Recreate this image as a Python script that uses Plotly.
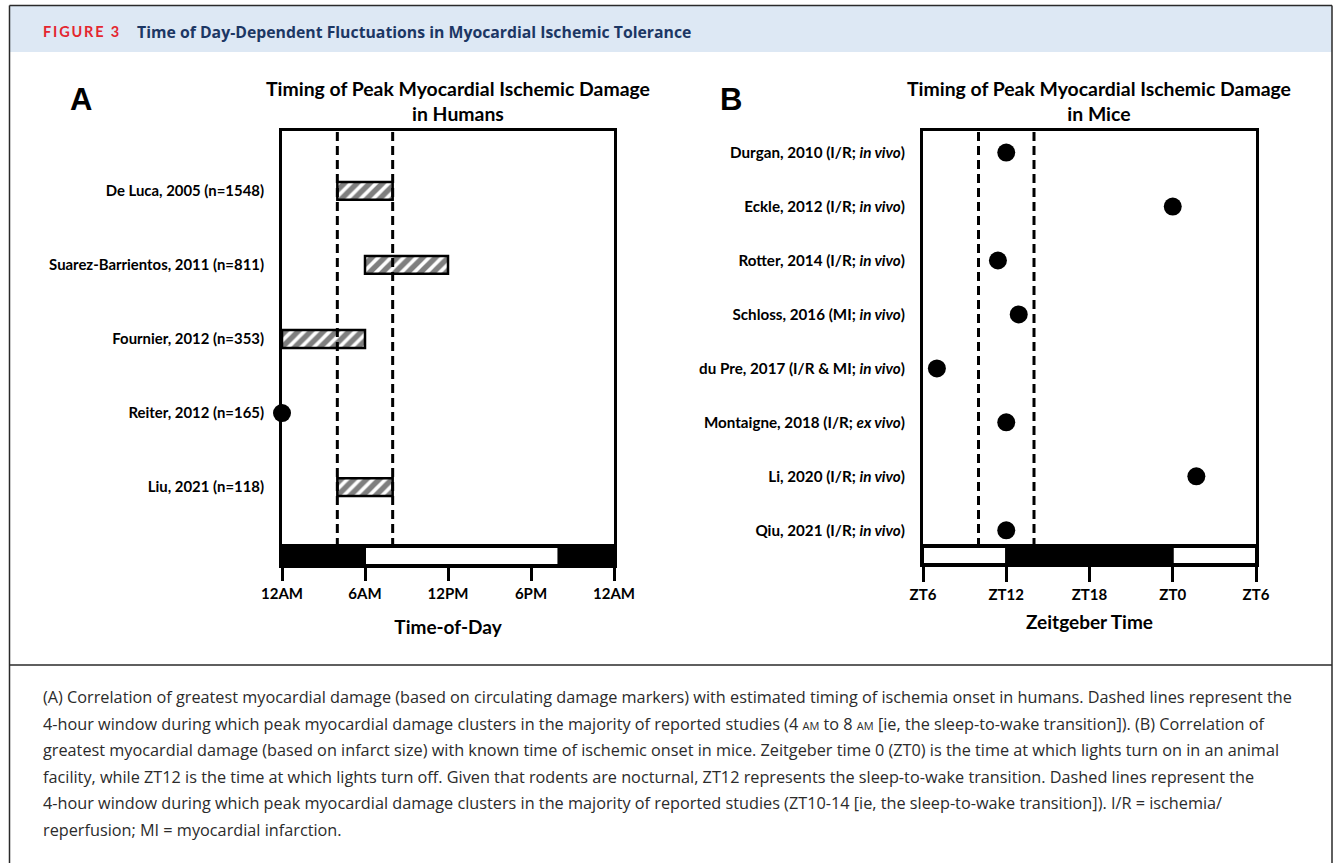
import plotly.graph_objects as go

W, H = 1337, 863

# ---------------- data ----------------
hum_studies = ["De Luca, 2005 (n=1548)", "Suarez-Barrientos, 2011 (n=811)",
               "Fournier, 2012 (n=353)", "Reiter, 2012 (n=165)", "Liu, 2021 (n=118)"]
hum_start = [4, 6, 0, None, 4]      # hour of day, range studies
hum_end = [8, 12, 6, None, 8]
hum_point = [None, None, None, 0, None]  # single time point studies
hum_window = [4, 8]
hum_ticks = [0, 6, 12, 18, 24]
hum_ticktext = ["12AM", "6AM", "12PM", "6PM", "12AM"]
hum_phase_start = [0, 6, 20]
hum_phase_end = [6, 20, 24]
hum_phase_dark = [True, False, True]

mouse_studies = ["Durgan, 2010 (I/R; <i>in vivo</i>)", "Eckle, 2012 (I/R; <i>in vivo</i>)",
                 "Rotter, 2014 (I/R; <i>in vivo</i>)", "Schloss, 2016 (MI; <i>in vivo</i>)",
                 "du Pre, 2017 (I/R &amp; MI; <i>in vivo</i>)", "Montaigne, 2018 (I/R; <i>ex vivo</i>)",
                 "Li, 2020 (I/R; <i>in vivo</i>)", "Qiu, 2021 (I/R; <i>in vivo</i>)"]
mouse_zt = [12, 0, 11.4, 12.9, 7, 12, 1.7, 12]
mouse_window = [10, 14]
mouse_ticks = [6, 12, 18, 24, 30]
mouse_ticktext = ["ZT6", "ZT12", "ZT18", "ZT0", "ZT6"]
mouse_phase_start = [6, 12, 24]
mouse_phase_end = [12, 24, 30]
mouse_phase_dark = [False, True, False]

caption_lines = [
    "(A) Correlation of greatest myocardial damage (based on circulating damage markers) with estimated timing of ischemia onset in humans. Dashed lines represent the",
    "4-hour window during which peak myocardial damage clusters in the majority of reported studies (4 <span style='font-size:11px'>AM</span> to 8 <span style='font-size:11px'>AM</span> [ie, the sleep-to-wake transition]). (B) Correlation of",
    "greatest myocardial damage (based on infarct size) with known time of ischemic onset in mice. Zeitgeber time 0 (ZT0) is the time at which lights turn on in an animal",
    "facility, while ZT12 is the time at which lights turn off. Given that rodents are nocturnal, ZT12 represents the sleep-to-wake transition. Dashed lines represent the",
    "4-hour window during which peak myocardial damage clusters in the majority of reported studies (ZT10-14 [ie, the sleep-to-wake transition]). I/R = ischemia/",
    "reperfusion; MI = myocardial infarction.",
]

# ---------------- helpers ----------------
def px(x):
    return x / W

def py(y):
    return 1 - y / H

FONT = "Lato"
BOLD = dict(family=FONT, weight="bold", color="black")

fig = go.Figure()

# ---- Panel A: humans ----
n_h = len(hum_studies)
idx = [i for i in range(n_h) if hum_start[i] is not None]
fig.add_trace(go.Bar(
    orientation="h",
    y=idx, base=[hum_start[i] for i in idx],
    x=[hum_end[i] - hum_start[i] for i in idx],
    width=0.24,
    marker=dict(color="white", line=dict(color="black", width=2.5),
                pattern=dict(shape="/", fgcolor="black", bgcolor="white", size=9, solidity=0.6)),
    xaxis="x", yaxis="y", showlegend=False, hoverinfo="skip"))
pidx = [i for i in range(n_h) if hum_point[i] is not None]
fig.add_trace(go.Scatter(
    x=[hum_point[i] for i in pidx], y=pidx, mode="markers",
    marker=dict(size=18, color="black"), cliponaxis=False,
    xaxis="x", yaxis="y", showlegend=False, hoverinfo="skip"))
for s, e, d in zip(hum_phase_start, hum_phase_end, hum_phase_dark):
    fig.add_trace(go.Bar(
        orientation="h", y=[0.5], base=[s], x=[e - s], width=1,
        marker=dict(color="black" if d else "white", line=dict(color="black", width=2)),
        xaxis="x2", yaxis="y2", showlegend=False, hoverinfo="skip"))

# ---- Panel B: mice ----
n_m = len(mouse_studies)
mouse_x = [z if z >= 6 else z + 24 for z in mouse_zt]
fig.add_trace(go.Scatter(
    x=mouse_x, y=list(range(n_m)), mode="markers",
    marker=dict(size=18, color="black"), cliponaxis=False,
    xaxis="x3", yaxis="y3", showlegend=False, hoverinfo="skip"))
for s, e, d in zip(mouse_phase_start, mouse_phase_end, mouse_phase_dark):
    fig.add_trace(go.Bar(
        orientation="h", y=[0.5], base=[s], x=[e - s], width=1,
        marker=dict(color="black" if d else "white", line=dict(color="black", width=2)),
        xaxis="x4", yaxis="y4", showlegend=False, hoverinfo="skip"))

# ---------------- axes ----------------
A_x = [px(282), px(614)]
B_x = [px(923), px(1256)]
main_y = [py(547), py(131)]
stripA_y = [py(565), py(547)]
stripB_y = [py(564), py(547)]

box = dict(showline=True, linecolor="black", linewidth=3, mirror=True,
           showgrid=False, zeroline=False)

fig.update_layout(
    xaxis=dict(domain=A_x, range=[0, 24], anchor="y", showticklabels=False, ticks="", **box),
    yaxis=dict(domain=main_y, range=[n_h - 1 + 0.81, -0.81], anchor="x",
               tickvals=list(range(n_h)), ticktext=hum_studies, ticks="",
               tickfont=dict(size=14.9, **BOLD), ticklabelstandoff=12, **box),
    xaxis2=dict(domain=A_x, range=[0, 24], anchor="y2", tickvals=hum_ticks, ticktext=hum_ticktext,
                ticks="outside", ticklen=13, tickwidth=3, tickcolor="black",
                tickfont=dict(size=15, **BOLD),
                title=dict(text="Time-of-Day", font=dict(size=19, **BOLD), standoff=20), **box),
    yaxis2=dict(domain=stripA_y, range=[0, 1], anchor="x2", showticklabels=False, ticks="", **box),
    xaxis3=dict(domain=B_x, range=[6, 30], anchor="y3", showticklabels=False, ticks="", **box),
    yaxis3=dict(domain=main_y, range=[n_m - 1 + 0.31, -0.40], anchor="x3",
                tickvals=list(range(n_m)), ticktext=mouse_studies, ticks="",
                tickfont=dict(size=15.2, **BOLD), ticklabelstandoff=12, **box),
    xaxis4=dict(domain=B_x, range=[6, 30], anchor="y4", tickvals=mouse_ticks, ticktext=mouse_ticktext,
                ticks="outside", ticklen=15, tickwidth=3, tickcolor="black",
                tickfont=dict(size=15, **BOLD),
                title=dict(text="Zeitgeber Time", font=dict(size=19, **BOLD), standoff=14), **box),
    yaxis4=dict(domain=stripB_y, range=[0, 1], anchor="x4", showticklabels=False, ticks="", **box),
    barmode="overlay",
    width=W, height=H, autosize=False,
    margin=dict(l=0, r=0, t=0, b=0, autoexpand=False),
    paper_bgcolor="white", plot_bgcolor="white",
    font=dict(family=FONT, color="black"),
)

# ---------------- dashed window lines ----------------
for xv in hum_window:
    fig.add_shape(type="line", xref="x", yref="y domain", x0=xv, x1=xv, y0=0, y1=1,
                  line=dict(color="black", width=3, dash="9px,5px"), layer="above")
for xv in mouse_window:
    fig.add_shape(type="line", xref="x3", yref="y3 domain", x0=xv, x1=xv, y0=0, y1=1,
                  line=dict(color="black", width=3, dash="9px,5px"), layer="above")

# ---------------- frame & header ----------------
fig.add_shape(type="rect", xref="paper", yref="paper", x0=px(10), x1=px(1332), y0=py(6), y1=py(52),
              fillcolor="#dde8f4", line=dict(width=0), layer="below")
frame = dict(color="#2a2a2a", width=1.5)
fig.add_shape(type="line", xref="paper", yref="paper", x0=px(9.5), x1=px(1332), y0=py(5.5), y1=py(5.5), line=frame)
fig.add_shape(type="line", xref="paper", yref="paper", x0=px(9.5), x1=px(9.5), y0=py(5.5), y1=0, line=frame)
fig.add_shape(type="line", xref="paper", yref="paper", x0=px(1332), x1=px(1332), y0=py(5.5), y1=0, line=frame)
fig.add_shape(type="line", xref="paper", yref="paper", x0=px(9.5), x1=px(1332), y0=py(665), y1=py(665), line=frame)

fig.add_annotation(x=px(41), y=py(32), xref="paper", yref="paper", xanchor="left", yanchor="middle",
                   text="\u2009".join("FIGURE 3"), showarrow=False,
                   font=dict(family=FONT, size=14.5, weight="bold", color="#e4262f"))
fig.add_annotation(x=px(135), y=py(32), xref="paper", yref="paper", xanchor="left", yanchor="middle",
                   text="Time of Day-Dependent Fluctuations in Myocardial Ischemic Tolerance", showarrow=False,
                   font=dict(family="Open Sans", size=15.8, weight="bold", color="#1c3764"))

# panel letters and titles
fig.add_annotation(x=px(81), y=py(99), xref="paper", yref="paper", xanchor="center", yanchor="middle",
                   text="A", showarrow=False,
                   font=dict(family="Liberation Sans", size=31, weight="bold", color="black"))
fig.add_annotation(x=px(731), y=py(99), xref="paper", yref="paper", xanchor="center", yanchor="middle",
                   text="B", showarrow=False,
                   font=dict(family="Liberation Sans", size=31, weight="bold", color="black"))
fig.add_annotation(x=px(458), y=py(101), xref="paper", yref="paper", xanchor="center", yanchor="middle",
                   text="Timing of Peak Myocardial Ischemic Damage<br>in Humans", showarrow=False,
                   font=dict(size=19.4, **BOLD))
fig.add_annotation(x=px(1099), y=py(101), xref="paper", yref="paper", xanchor="center", yanchor="middle",
                   text="Timing of Peak Myocardial Ischemic Damage<br>in Mice", showarrow=False,
                   font=dict(size=19.4, **BOLD))

# caption
cap_y0, cap_dy = 697, 26.5
for i, line in enumerate(caption_lines):
    fig.add_annotation(x=px(41), y=py(cap_y0 + i * cap_dy), xref="paper", yref="paper",
                       xanchor="left", yanchor="middle", text=line, showarrow=False,
                       font=dict(family="Open Sans", size=16.25, color="#2b2b2b"))

fig.write_html("out.html", config={"displayModeBar": False},
               post_script="document.body.style.margin='0';document.body.style.overflow='hidden';")
